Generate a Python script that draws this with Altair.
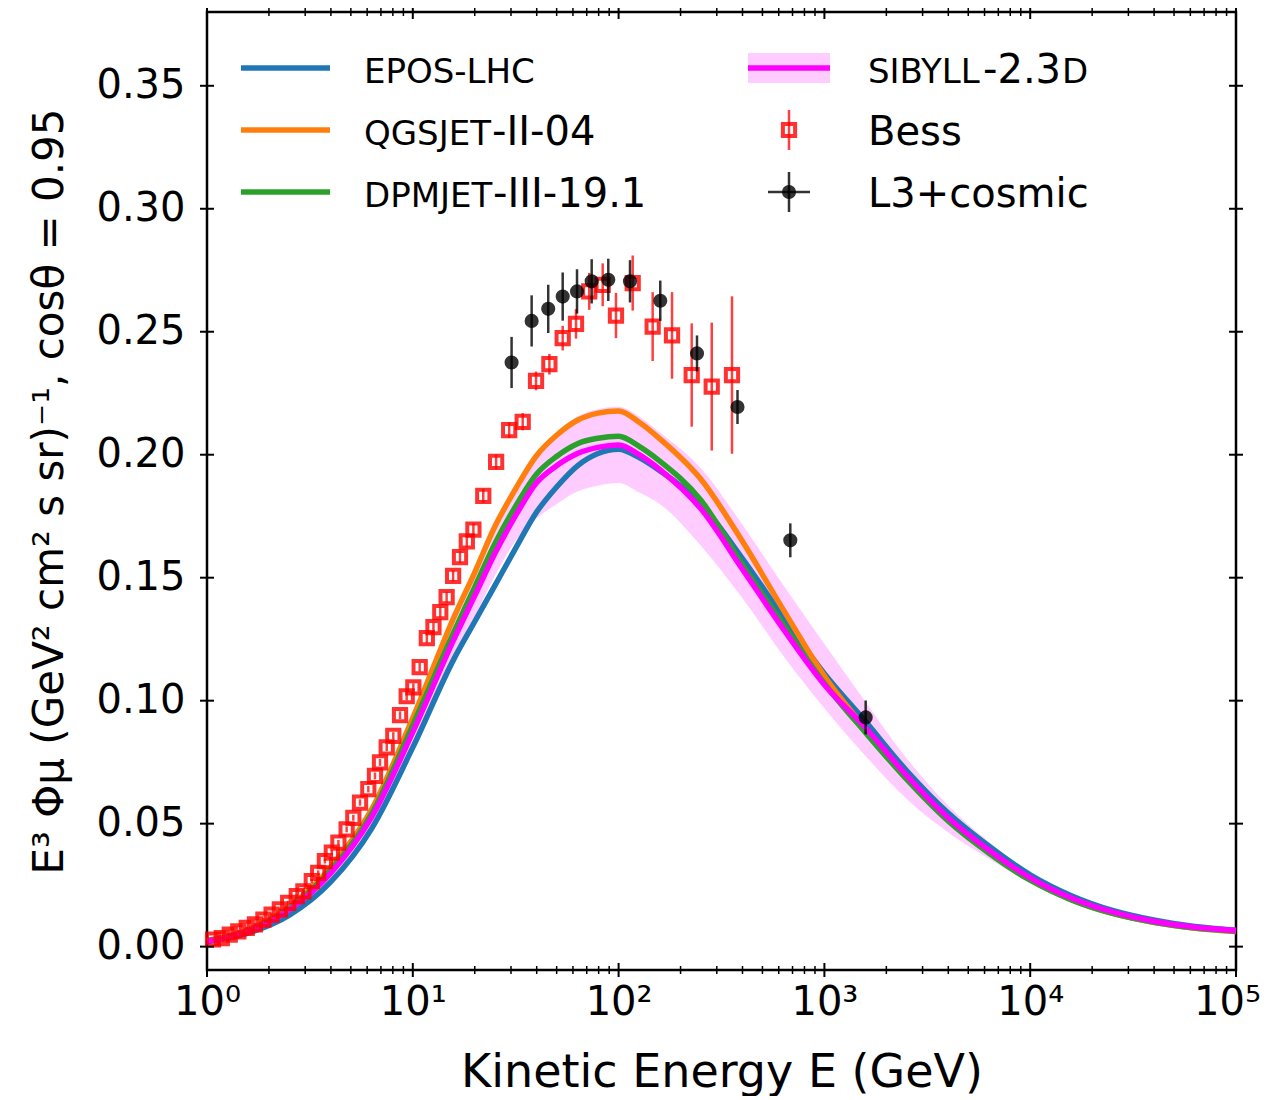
import altair as alt
import pandas as pd

# ---------------- data ----------------
# model grid (kinetic energy, GeV)
energy_model = [1, 1.585, 2.512, 3.981, 6.310, 10, 15.85, 19.95, 25.12, 31.62, 39.81,
                50.12, 63.10, 79.43, 100, 125.9, 158.5, 251.2, 398.1, 631.0, 1000,
                1585, 2512, 3981, 6310, 10000, 15850, 25120, 39810, 63100, 100000]
epos = [0.0020, 0.0055, 0.0128, 0.0262, 0.0480, 0.0810, 0.1170, 0.1320, 0.1470, 0.1620, 0.1765,
        0.1870, 0.1955, 0.2005, 0.2022, 0.1988, 0.1935, 0.1800, 0.1580, 0.1340, 0.1110,
        0.0915, 0.0715, 0.0544, 0.0408, 0.0292, 0.0207, 0.0147, 0.0108, 0.0082, 0.0067]
qgsjet = [0.0025, 0.0068, 0.0162, 0.0322, 0.0558, 0.0930, 0.1340, 0.1520, 0.1710, 0.1862, 0.1995,
          0.2080, 0.2140, 0.2169, 0.2178, 0.2132, 0.2065, 0.1900, 0.1650, 0.1370, 0.1100,
          0.0885, 0.0685, 0.0515, 0.0382, 0.0272, 0.0191, 0.0135, 0.0099, 0.0075, 0.0062]
dpmjet = [0.0024, 0.0064, 0.0156, 0.0310, 0.0540, 0.0900, 0.1280, 0.1460, 0.1640, 0.1791, 0.1920,
          0.1994, 0.2045, 0.2067, 0.2075, 0.2034, 0.1974, 0.1815, 0.1555, 0.1310, 0.1070,
          0.0870, 0.0680, 0.0512, 0.0380, 0.0270, 0.0190, 0.0135, 0.0099, 0.0076, 0.0063]
sibyll = [0.0022, 0.0061, 0.0150, 0.0298, 0.0527, 0.0872, 0.1250, 0.1425, 0.1600, 0.1753, 0.1885,
          0.1956, 0.2005, 0.2030, 0.2040, 0.2000, 0.1940, 0.1780, 0.1537, 0.1292, 0.1065,
          0.0890, 0.0695, 0.0525, 0.0392, 0.0280, 0.0198, 0.0141, 0.0103, 0.0079, 0.0066]
sibyll_hi = [0.0025, 0.0068, 0.0162, 0.0322, 0.0558, 0.0930, 0.1340, 0.1525, 0.1715, 0.1870, 0.2002,
             0.2090, 0.2155, 0.2185, 0.2195, 0.2155, 0.2090, 0.1945, 0.1717, 0.1470, 0.1230,
             0.0995, 0.0765, 0.0575, 0.0425, 0.0302, 0.0213, 0.0151, 0.0111, 0.0085, 0.0070]
sibyll_lo = [0.0020, 0.0055, 0.0128, 0.0262, 0.0480, 0.0810, 0.1180, 0.1340, 0.1510, 0.1650, 0.1740,
             0.1800, 0.1850, 0.1875, 0.1885, 0.1846, 0.1800, 0.1630, 0.1418, 0.1183, 0.0969,
             0.0775, 0.0600, 0.0465, 0.0357, 0.0258, 0.0185, 0.0133, 0.0097, 0.0074, 0.0061]

bess_E = [1.07, 1.18, 1.29, 1.42, 1.56, 1.71, 1.88, 2.06, 2.26, 2.48, 2.73, 2.94, 3.23, 3.47,
          3.74, 4.04, 4.35, 4.77, 5.14, 5.54, 6.08, 6.55, 6.93, 7.47, 8.04, 8.67, 9.34, 10.06,
          10.8, 11.7, 12.6, 13.6, 14.6, 15.7, 16.96, 18.3, 19.7,
          22.0, 25.4, 29.4, 34.2, 39.7, 46.1, 53.5, 62.1, 72.0, 83.7, 97.1, 117.1, 146.4,
          181.8, 226.6, 283.5, 355.6]
bess_flux = [0.0029, 0.0035, 0.0049, 0.0062, 0.0076, 0.0090, 0.0110, 0.0130, 0.0151, 0.0178,
             0.0205, 0.0225, 0.0266, 0.0300, 0.0348, 0.0382, 0.0423, 0.0477, 0.0524, 0.0586,
             0.0640, 0.0694, 0.0749, 0.0810, 0.0857, 0.0941, 0.1018, 0.1054, 0.1136, 0.1254,
             0.1299, 0.1360, 0.1421, 0.1507, 0.1584, 0.1648, 0.1695,
             0.1833, 0.1971, 0.2100, 0.2134, 0.2300, 0.2368, 0.2474, 0.2532, 0.2664, 0.2691,
             0.2566, 0.2698, 0.2521, 0.2485, 0.2324, 0.2277, 0.2324]
bess_err = [0.0004, 0.0004, 0.0005, 0.0005, 0.0005, 0.0006, 0.0006, 0.0007, 0.0007, 0.0008,
            0.0008, 0.0009, 0.0009, 0.0010, 0.0010, 0.0011, 0.0011, 0.0012, 0.0012, 0.0013,
            0.0013, 0.0014, 0.0014, 0.0015, 0.0015, 0.0016, 0.0017, 0.0017, 0.0018, 0.0019,
            0.0020, 0.0021, 0.0022, 0.0023, 0.0024, 0.0025, 0.0026,
            0.0028, 0.0030, 0.0032, 0.0035, 0.0038, 0.0042, 0.0050, 0.0060, 0.0075, 0.0087,
            0.0092, 0.0112, 0.0140, 0.0176, 0.0210, 0.0260, 0.0320]

l3_E = [30.2, 37.8, 45.5, 53.5, 62.8, 74.0, 89.1, 113.6, 159.4, 240.4, 378.2, 682.9, 1587]
l3_flux = [0.2375, 0.2544, 0.2593, 0.2643, 0.2664, 0.2705, 0.2711, 0.2705, 0.2626, 0.2412,
           0.2194, 0.1652, 0.0932]
l3_err = [0.0104, 0.0104, 0.0098, 0.0098, 0.0090, 0.0090, 0.0086, 0.0086, 0.0082, 0.0073,
          0.0069, 0.0069, 0.0069]

xtick_values = [1, 10, 100, 1000, 10000, 100000]
xtick_labels = ["10\u2070", "10\u00b9", "10\u00b2", "10\u00b3", "10\u2074", "10\u2075"]
ytick_values = [0.0, 0.05, 0.10, 0.15, 0.20, 0.25, 0.30, 0.35]

series_names = ["EPOS-LHC", "QGSJET-II-04", "DPMJET-III-19.1", "SIBYLL-2.3D"]
series_colors = ["#1f77b4", "#ff7f0e", "#2ca02c", "#ff00ff"]

x_title = "Kinetic Energy E (GeV)"
y_title = "E\u00b3  \u03a6\u03bc (GeV\u00b2 cm\u00b2 s sr)\u207b\u00b9, cos\u03b8 = 0.95"

# ---------------- chart ----------------
W, H = 1029, 958
FONT = "DejaVu Sans"

label_js = "[" + ",".join("'%s'" % s for s in xtick_labels) + "]"
x_axis = alt.Axis(values=xtick_values,
                  labelExpr=label_js + "[round(log(datum.value)/LN10)]",
                  labelOffset={"condition": {"test": "datum.value == 100000", "value": -9},
                               "value": 0},
                  title=x_title, ticks=False, domain=False, grid=False,
                  labelFont=FONT, labelFontSize=40, labelColor="black", labelPadding=12,
                  labelFlush=False, labelOverlap=False, labelBound=False,
                  titleFont=FONT, titleFontSize=46, titleFontWeight="normal",
                  titleColor="black", titlePadding=28)
y_axis = alt.Axis(values=ytick_values, format=".2f", title=y_title, ticks=False,
                  domain=False, grid=False, labelFont=FONT, labelFontSize=40,
                  labelColor="black", labelPadding=22, labelFlush=False,
                  labelOverlap=False,
                  titleFont=FONT, titleFontSize=42, titleFontWeight="normal",
                  titleColor="black", titlePadding=24)

xs = alt.Scale(type="log", domain=[1, 100000], nice=False)
ys = alt.Scale(domain=[-0.0095, 0.38], nice=False, zero=False)

def X(field="E"):
    return alt.X(field + ":Q", scale=xs, axis=x_axis)

def Y(field="flux"):
    return alt.Y(field + ":Q", scale=ys, axis=y_axis)

layers = []

band_df = pd.DataFrame({"E": energy_model, "lo": sibyll_lo, "hi": sibyll_hi})
layers.append(alt.Chart(band_df).mark_area(interpolate="monotone", color="#ff00ff",
                                           opacity=0.2).encode(
    x=X(), y=Y("lo"), y2="hi:Q"))

for name, vals, col in zip(series_names, [epos, qgsjet, dpmjet, sibyll], series_colors):
    df = pd.DataFrame({"E": energy_model, "flux": vals})
    layers.append(alt.Chart(df).mark_line(interpolate="monotone", color=col,
                                          strokeWidth=5.5).encode(x=X(), y=Y()))

bess_df = pd.DataFrame({"E": bess_E, "flux": bess_flux})
bess_df["lo"] = bess_df["flux"] - pd.Series(bess_err)
bess_df["hi"] = bess_df["flux"] + pd.Series(bess_err)
layers.append(alt.Chart(bess_df).mark_rule(color="red", strokeWidth=2.5, opacity=0.75).encode(
    x=X(), y=Y("lo"), y2="hi:Q"))
layers.append(alt.Chart(bess_df).mark_point(shape="square", filled=False, color="red",
                                            strokeWidth=4, size=150, opacity=0.8).encode(
    x=X(), y=Y()))

l3_df = pd.DataFrame({"E": l3_E, "flux": l3_flux})
l3_df["lo"] = l3_df["flux"] - pd.Series(l3_err)
l3_df["hi"] = l3_df["flux"] + pd.Series(l3_err)
layers.append(alt.Chart(l3_df).mark_rule(color="black", strokeWidth=2.5, opacity=0.8).encode(
    x=X(), y=Y("lo"), y2="hi:Q"))
layers.append(alt.Chart(l3_df).mark_circle(color="black", size=200, opacity=0.8).encode(
    x=X(), y=Y()))

# ---------------- ticks (in-out, all four sides) ----------------
xmaj_df = pd.DataFrame({"E": xtick_values})
xmin_df = pd.DataFrame({"E": [m * 10 ** d for d in range(5) for m in range(2, 10)]})
ytk_df = pd.DataFrame({"flux": ytick_values})
for y0, y1 in [(-7, 7), (H - 7, H + 7)]:
    layers.append(alt.Chart(xmaj_df).mark_rule(color="black", strokeWidth=2).encode(
        x=X(), y=alt.value(y0), y2=alt.value(y1)))
for y0, y1 in [(-4, 4), (H - 4, H + 4)]:
    layers.append(alt.Chart(xmin_df).mark_rule(color="black", strokeWidth=1.5).encode(
        x=X(), y=alt.value(y0), y2=alt.value(y1)))
for x0, x1 in [(-7, 7), (W - 7, W + 7)]:
    layers.append(alt.Chart(ytk_df).mark_rule(color="black", strokeWidth=2).encode(
        y=Y(), x=alt.value(x0), x2=alt.value(x1)))

# ---------------- legend (drawn by hand, matplotlib style) ----------------
one = pd.DataFrame({"k": [0]})
row_y = [56, 118, 180]
row_base = [71, 133, 195]
for i in range(3):
    layers.append(alt.Chart(one).mark_rule(color=series_colors[i], strokeWidth=5.5).encode(
        x=alt.value(34), x2=alt.value(123), y=alt.value(row_y[i])))
layers.append(alt.Chart(one).mark_rect(color="#ff00ff", opacity=0.2).encode(
    x=alt.value(541), x2=alt.value(623), y=alt.value(41), y2=alt.value(71)))
layers.append(alt.Chart(one).mark_rule(color="#ff00ff", strokeWidth=5.5).encode(
    x=alt.value(541), x2=alt.value(623), y=alt.value(row_y[0])))
layers.append(alt.Chart(one).mark_rule(color="red", strokeWidth=2.5, opacity=0.75).encode(
    x=alt.value(582), y=alt.value(row_y[1] - 20), y2=alt.value(row_y[1] + 20)))
layers.append(alt.Chart(one).mark_point(shape="square", filled=False, color="red",
                                        strokeWidth=4, size=150, opacity=0.8).encode(
    x=alt.value(582), y=alt.value(row_y[1])))
layers.append(alt.Chart(one).mark_rule(color="black", strokeWidth=2.5, opacity=0.8).encode(
    x=alt.value(582), y=alt.value(row_y[2] - 20), y2=alt.value(row_y[2] + 20)))
layers.append(alt.Chart(one).mark_rule(color="black", strokeWidth=2.5, opacity=0.8).encode(
    x=alt.value(561), x2=alt.value(603), y=alt.value(row_y[2])))
layers.append(alt.Chart(one).mark_circle(color="black", size=200, opacity=0.8).encode(
    x=alt.value(582), y=alt.value(row_y[2])))

SC, NS = 34, 40  # small-caps size, normal size
legend_pieces = [
    ("EPOS-LHC", SC, 157, 0), ("QGSJET", SC, 157, 1), ("-II-04", NS, 285, 1),
    ("DPMJET", SC, 157, 2), ("-III-19.1", NS, 286, 2),
    ("SIBYLL", SC, 661, 0), ("-2.3", NS, 776, 0), ("D", SC, 855, 0),
    ("Bess", NS, 661, 1), ("L3+cosmic", NS, 661, 2),
]
for txt, fs, px, r in legend_pieces:
    layers.append(alt.Chart(one).mark_text(text=txt, align="left", baseline="alphabetic",
                                           font=FONT, fontSize=fs, color="black").encode(
        x=alt.value(px), y=alt.value(row_base[r])))

chart = alt.layer(*layers).properties(
    width=W, height=H,
    autosize=alt.AutoSizeParams(type="none"),
    padding={"left": 199, "top": 4, "right": 26, "bottom": 126},
    background="white",
).configure_view(stroke="black", strokeWidth=2.5)

chart.save("out.html", embed_options={"renderer": "svg", "actions": False})
